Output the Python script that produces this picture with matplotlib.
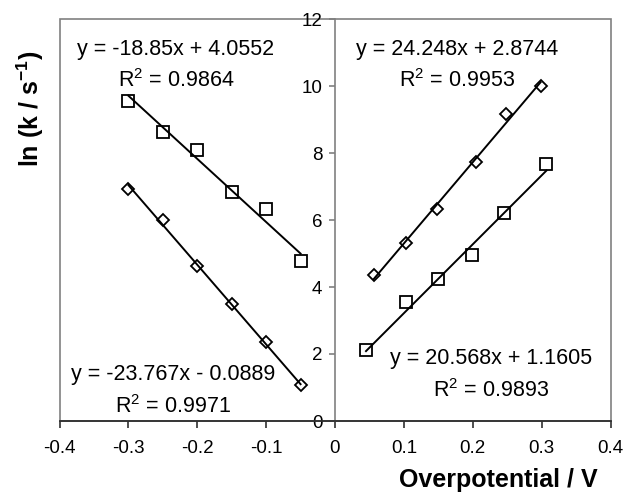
import matplotlib
matplotlib.use("Agg")
import matplotlib.pyplot as plt
from matplotlib.patches import Rectangle
import numpy as np

plt.rcParams['font.family'] = ['Liberation Sans', 'DejaVu Sans']
plt.rcParams['mathtext.fontset'] = 'custom'
plt.rcParams['mathtext.rm'] = 'Liberation Sans'
plt.rcParams['mathtext.bf'] = 'Liberation Sans:bold'
plt.rcParams['mathtext.default'] = 'regular'

# Data
left_x = [-0.30, -0.25, -0.20, -0.15, -0.10, -0.05]
left_sq_y = [9.56, 8.64, 8.08, 6.85, 6.32, 4.79]
left_di_y = [6.92, 6.00, 4.63, 3.48, 2.35, 1.07]
right_di_x = [0.056, 0.103, 0.148, 0.205, 0.249, 0.2985]
right_di_y = [4.36, 5.30, 6.33, 7.72, 9.16, 10.01]
right_sq_x = [0.045, 0.103, 0.150, 0.199, 0.245, 0.307]
right_sq_y = [2.12, 3.56, 4.24, 4.96, 6.20, 7.67]

# Trendline equations (slope, intercept) shown on chart
fit_left_sq = (-18.85, 4.0552)
fit_left_di = (-23.767, -0.0889)
fit_right_di = (24.248, 2.8744)
fit_right_sq = (20.568, 1.1605)

labels = {
    'left_sq': ("y = -18.85x + 4.0552", "R$^2$ = 0.9864"),
    'right_di': ("y = 24.248x + 2.8744", "R$^2$ = 0.9953"),
    'left_di': ("y = -23.767x - 0.0889", "R$^2$ = 0.9971"),
    'right_sq': ("y = 20.568x + 1.1605", "R$^2$ = 0.9893"),
}

x_ticks = [-0.4, -0.3, -0.2, -0.1, 0.0, 0.1, 0.2, 0.3, 0.4]
x_ticklabels = ["-0.4", "-0.3", "-0.2", "-0.1", "0", "0.1", "0.2", "0.3", "0.4"]
y_ticks = [0, 2, 4, 6, 8, 10, 12]

fig = plt.figure(figsize=(6.24, 4.92), dpi=100)
ax = fig.add_axes([59.5/624, 1-421/492, (610.5-59.5)/624, (421-19)/492])
ax.set_xlim(-0.4, 0.4)
ax.set_ylim(0, 12)

frame_c = '#808080'
# Frame
ax.add_patch(Rectangle((0, 0), 1, 1, transform=ax.transAxes, fill=False,
                       edgecolor=frame_c, lw=1.2, clip_on=False, zorder=0.5))
ax.spines['top'].set_visible(False)
ax.spines['right'].set_visible(False)
ax.spines['left'].set_position(('data', 0))
ax.spines['left'].set_color(frame_c)
ax.spines['left'].set_linewidth(1.2)
ax.spines['bottom'].set_color('#303030')
ax.spines['bottom'].set_linewidth(1.3)

ax.set_xticks(x_ticks)
ax.set_xticklabels(x_ticklabels)
ax.set_yticks(y_ticks)
ax.tick_params(axis='x', direction='out', length=5, width=1.2, color='#303030',
               labelsize=13.5, pad=9)
ax.tick_params(axis='y', direction='out', length=4, width=1.2, color=frame_c,
               labelsize=13.5, pad=5)

mk = dict(markerfacecolor='white', markeredgecolor='black', markeredgewidth=1.3,
          linestyle='none', zorder=3, clip_on=False)
ax.plot(left_x, left_sq_y, marker='s', markersize=9, **mk)
ax.plot(left_x, left_di_y, marker='D', markersize=6.3, **mk)
ax.plot(right_di_x, right_di_y, marker='D', markersize=6.3, **mk)
ax.plot(right_sq_x, right_sq_y, marker='s', markersize=9, **mk)

def trend(xs, fit):
    xx = np.array([min(xs), max(xs)])
    ax.plot(xx, fit[0]*xx + fit[1], color='black', lw=1.4, zorder=4)

trend(left_x, fit_left_sq)
trend(left_x, fit_left_di)
trend(right_di_x, fit_right_di)
trend(right_sq_x, fit_right_sq)

fs = 15.5
def eq(x, y1, y2, key):
    ax.text(x, y1, labels[key][0], ha='center', va='baseline', fontsize=fs)
    ax.text(x, y2, labels[key][1], ha='center', va='baseline', fontsize=fs)

eq(-0.231, 10.93, 9.97, 'left_sq')
eq(0.177, 10.93, 9.97, 'right_di')
eq(-0.235, 1.224, 0.239, 'left_di')
eq(0.2265, 1.70, 0.716, 'right_sq')

fig.text(30/624, 1-109/492, r"ln (k / s$^{\mathbf{-1}}$)", rotation=90,
         ha='center', va='center', fontsize=18, fontweight='bold')
fig.text(498/624, 1-480/492, "Overpotential / V", ha='center', va='center',
         fontsize=18, fontweight='bold')

fig.savefig("out.png", dpi=100)
